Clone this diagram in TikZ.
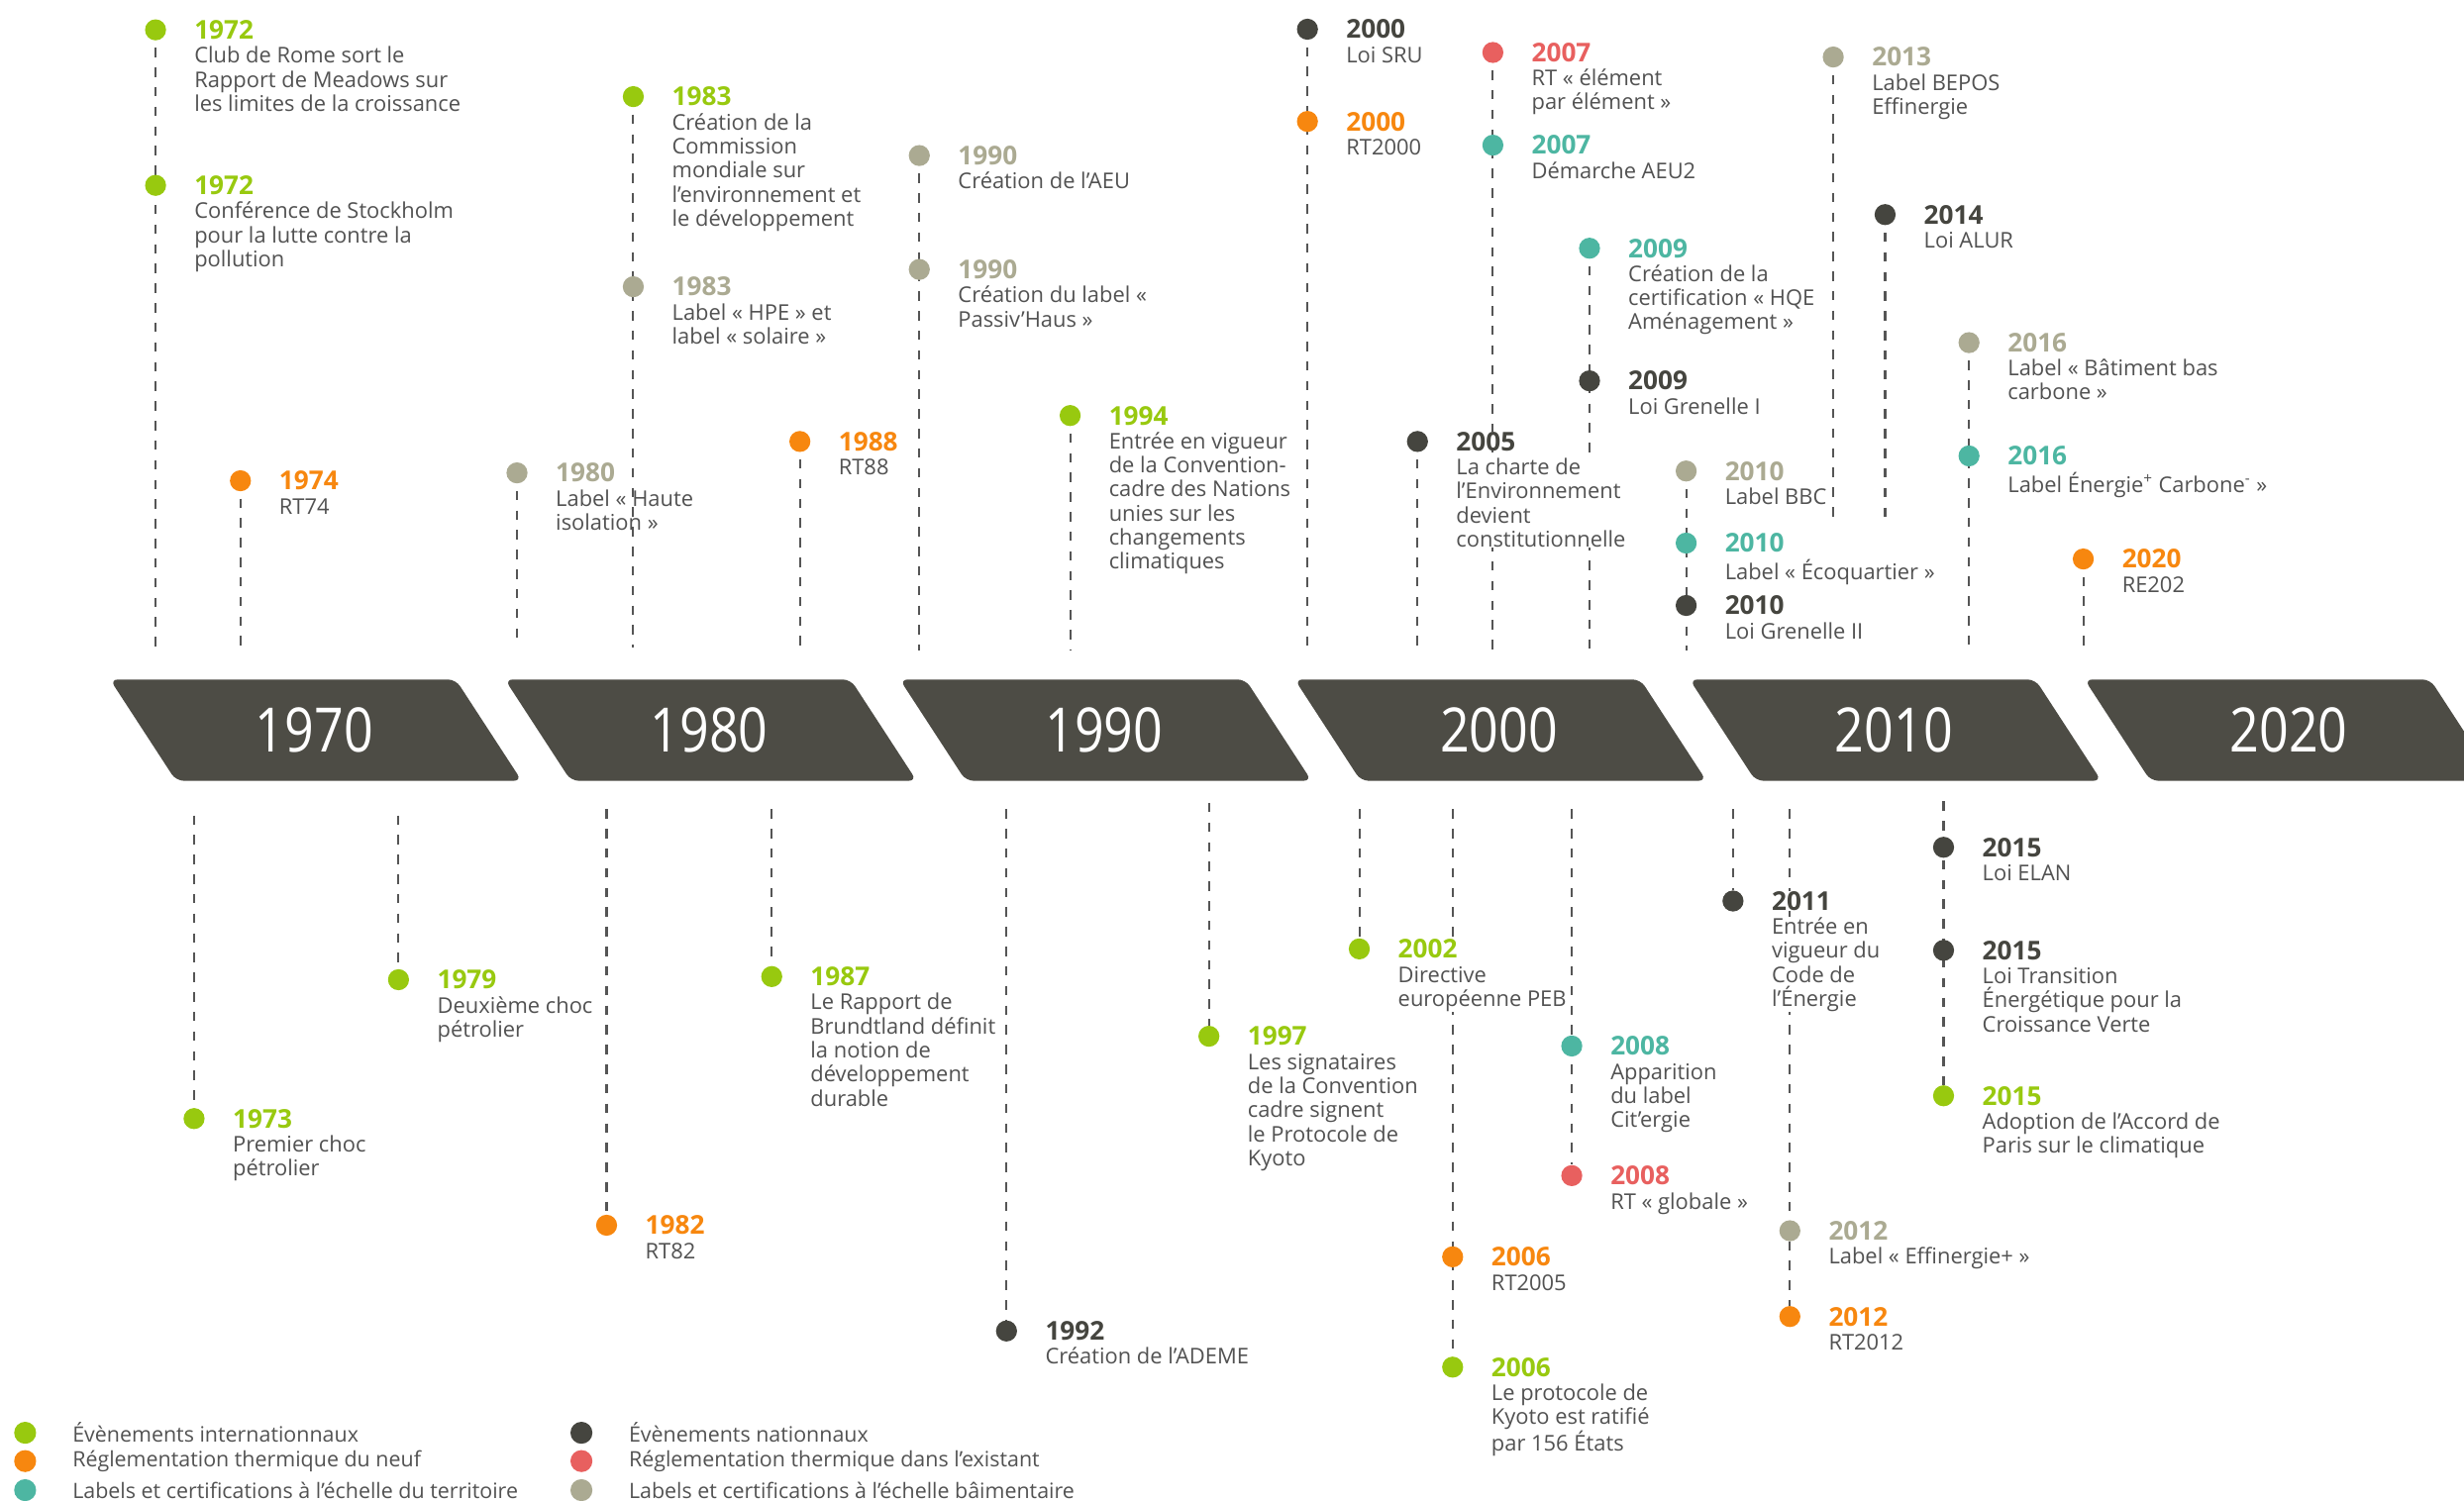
\documentclass[tikz,border=0pt]{standalone}
\usepackage{fontspec}
\setmainfont{Open Sans}
\usepackage{graphicx}
\usetikzlibrary{calc}
\definecolor{cgreen}{RGB}{152,201,15}
\definecolor{corange}{RGB}{247,135,15}
\definecolor{cteal}{RGB}{77,182,162}
\definecolor{cdark}{RGB}{69,69,63}
\definecolor{cred}{RGB}{232,96,95}
\definecolor{ckhaki}{RGB}{171,170,146}
\definecolor{banner}{RGB}{77,76,69}
\definecolor{tgrey}{RGB}{82,82,82}
\definecolor{lgrey}{RGB}{85,85,85}
\pgfdeclarelayer{bg}
\pgfsetlayers{bg,main}
\tikzset{
 evdot/.style={circle,inner sep=0pt,minimum size=13.4pt,draw=none},
 evyear/.style={anchor=west,inner sep=0pt,font=\fontsize{16.5}{16.5}\selectfont\bfseries,fill=white},
 evdesc/.style={anchor=north west,inner sep=0pt,align=left,font=\fontsize{13.8}{15.3}\selectfont,text=tgrey,fill=white},
 conn/.style={draw=lgrey,line width=1.3pt,dash pattern=on 6pt off 6.5pt},
 band/.style={fill=banner,rounded corners=5pt},
 bandtext/.style={text=white,font=\fontsize{39}{39}\selectfont,inner sep=0pt},
 legdot/.style={circle,inner sep=0pt,minimum size=14pt,draw=none},
 legtext/.style={anchor=west,inner sep=0pt,font=\fontsize{13.5}{15}\selectfont,text=tgrey},
}
\newcommand{\ev}[7][]{%
  \node[evdot,fill=#5] (#2) at (#3,#4) {};
  \node[evyear,text=#5,xshift=24.5pt] (#2-y) at (#3,#4) {#6};
  \node[evdesc,xshift=24.5pt,yshift=-10pt,#1] (#2-t) at (#3,#4) {\rule{0pt}{11pt}#7};
}
\begin{document}
\begin{tikzpicture}[x=1pt,y=-1pt]
\useasboundingbox (0,0) rectangle (1568,955.4);
\clip (0,0) rectangle (1568,955.4);
% banner
\foreach \k/\yr in {0/1970,1/1980,2/1990,3/2000,4/2010,5/2020}{
  \pgfmathsetmacro\xo{70+251.3*\k}
  \fill[band] (\xo+110,432.5) -- (\xo+220,432.5) -- (\xo+262,497) -- (\xo+42,497) -- (\xo,432.5) -- cycle;
  \node[bandtext] (yr\yr) at (\xo+130,465) {\scalebox{0.84}[1]{\yr}};
}
% top events
\ev{e1}{99}{19}{cgreen}{1972}{Club de Rome sort le\\Rapport de Meadows sur\\les limites de la croissance}
\ev{e2}{99}{118}{cgreen}{1972}{Conférence de Stockholm\\pour la lutte contre la\\pollution}
\ev{e3}{153}{306}{corange}{1974}{RT74}
\ev[fill=none]{e4}{329}{301}{ckhaki}{1980}{Label « Haute\\isolation »}
\ev{e5}{403}{61.5}{cgreen}{1983}{Création de la\\Commission\\mondiale sur\\l’environnement et\\le développement}
\ev{e6}{403}{182.5}{ckhaki}{1983}{Label « HPE » et\\label « solaire »}
\ev{e7}{509}{281}{corange}{1988}{RT88}
\ev{e8}{585}{99}{ckhaki}{1990}{Création de l’AEU}
\ev{e9}{585}{171.5}{ckhaki}{1990}{Création du label «\\Passiv’Haus »}
\ev{e10}{681}{264.5}{cgreen}{1994}{Entrée en vigueur\\de la Convention-\\cadre des Nations\\unies sur les\\changements\\climatiques}
\ev{e11}{832}{18.6}{cdark}{2000}{Loi SRU}
\ev{e12}{832}{77.3}{corange}{2000}{RT2000}
\ev{e13}{950}{33.4}{cred}{2007}{RT « élément\\par élément »}
\ev{e14}{950}{92.4}{cteal}{2007}{Démarche AEU2}
\ev{e15}{1011.5}{158}{cteal}{2009}{Création de la\\certification « HQE\\Aménagement »}
\ev{e16}{1011.5}{242.4}{cdark}{2009}{Loi Grenelle I}
\ev{e17}{902}{281}{cdark}{2005}{La charte de\\l’Environnement\\devient\\constitutionnelle}
\ev{e18}{1073}{299.8}{ckhaki}{2010}{Label BBC}
\ev{e19}{1073}{345.7}{cteal}{2010}{Label « Écoquartier »}
\ev{e20}{1073}{385.4}{cdark}{2010}{Loi Grenelle II}
\ev{e21}{1166.6}{36.3}{ckhaki}{2013}{Label BEPOS\\Effinergie}
\ev{e22}{1199.6}{136.6}{cdark}{2014}{Loi ALUR}
\ev{e23}{1253}{218.1}{ckhaki}{2016}{Label « Bâtiment bas\\carbone »}
\ev{e24}{1253}{290.2}{cteal}{2016}{Label Énergie\textsuperscript{+} Carbone\textsuperscript{-} »}
\ev{e25}{1325.7}{355.8}{corange}{2020}{RE202}
% bottom events
\ev{b1}{123.5}{712}{cgreen}{1973}{Premier choc\\pétrolier}
\ev{b2}{253.6}{623.6}{cgreen}{1979}{Deuxième choc\\pétrolier}
\ev{b3}{386}{779.9}{corange}{1982}{RT82}
\ev{b4}{491.1}{621.6}{cgreen}{1987}{Le Rapport de\\Brundtland définit\\la notion de\\développement\\durable}
\ev{b5}{640.5}{847.2}{cdark}{1992}{Création de l’ADEME}
\ev{b6}{769.3}{659.6}{cgreen}{1997}{Les signataires\\de la Convention\\cadre signent\\le Protocole de\\Kyoto}
\ev{b7}{865}{604}{cgreen}{2002}{Directive\\européenne PEB}
\ev{b8}{924.4}{800}{corange}{2006}{RT2005}
\ev{b9}{924.4}{870.2}{cgreen}{2006}{Le protocole de\\Kyoto est ratifié\\par 156 États}
\ev{b10}{1000.2}{665.8}{cteal}{2008}{Apparition\\du label\\Cit’ergie}
\ev{b11}{1000.2}{748.3}{cred}{2008}{RT « globale »}
\ev{b12}{1102.8}{573.5}{cdark}{2011}{Entrée en\\vigueur du\\Code de\\l’Énergie}
\ev{b13}{1139}{783.4}{ckhaki}{2012}{Label « Effinergie+ »}
\ev{b14}{1139}{838}{corange}{2012}{RT2012}
\ev{b15}{1236.8}{539.3}{cdark}{2015}{Loi ELAN}
\ev{b16}{1236.8}{604.9}{cdark}{2015}{Loi Transition\\Énergétique pour la\\Croissance Verte}
\ev{b17}{1236.8}{697.5}{cgreen}{2015}{Adoption de l’Accord de\\Paris sur le climatique}
% line ends
\coordinate (e1-end) at (99,412);
\coordinate (e3-end) at (153,412);
\coordinate (e4-end) at (329,412);
\coordinate (e5-end) at (403,412);
\coordinate (e7-end) at (509,414);
\coordinate (e8-end) at (585,414);
\coordinate (e10-end) at (681,414);
\coordinate (e11-end) at (832,414);
\coordinate (e13-end) at (950,414);
\coordinate (e15-end) at (1011.5,414);
\coordinate (e17-end) at (902,414);
\coordinate (e18-end) at (1073,414);
\coordinate (e21-end) at (1166.6,334);
\coordinate (e22-end) at (1199.6,334);
\coordinate (e23-end) at (1253,414);
\coordinate (e25-end) at (1325.7,414);
\coordinate (b1-top) at (123.5,519);
\coordinate (b2-top) at (253.6,519);
\coordinate (b3-top) at (386,515);
\coordinate (b4-top) at (491.1,515);
\coordinate (b5-top) at (640.5,515);
\coordinate (b6-top) at (769.3,511);
\coordinate (b7-top) at (865,515);
\coordinate (b8-top) at (924.4,515);
\coordinate (b10-top) at (1000.2,515);
\coordinate (b12-top) at (1102.8,515);
\coordinate (b13-top) at (1139,515);
\coordinate (b15-top) at (1236.8,510);
\begin{pgfonlayer}{bg}
\foreach \a in {e1,e3,e4,e5,e7,e8,e10,e11,e13,e15,e17,e18,e21,e22,e23,e25}{
  \draw[conn,dash phase=8pt] (\a) -- (\a-end);
}
\foreach \a/\b in {b1/b1,b2/b2,b3/b3,b4/b4,b5/b5,b6/b6,b7/b7,b8/b9,b10/b11,b12/b12,b13/b14,b15/b17}{
  \draw[conn] (\a-top) -- (\b);
}
\end{pgfonlayer}
% legend
\node[legdot,fill=cgreen] (l1) at (16,912) {};
\node[legtext] (l1-t) at (46,912) {Évènements internationnaux};
\node[legdot,fill=corange] (l2) at (16,930) {};
\node[legtext] (l2-t) at (46,930) {Réglementation thermique du neuf};
\node[legdot,fill=cteal] (l3) at (16,948.5) {};
\node[legtext] (l3-t) at (46,948.5) {Labels et certifications à l’échelle du territoire};
\node[legdot,fill=cdark] (l4) at (370,912) {};
\node[legtext] (l4-t) at (400,912) {Évènements nationnaux};
\node[legdot,fill=cred] (l5) at (370,930) {};
\node[legtext] (l5-t) at (400,930) {Réglementation thermique dans l’existant};
\node[legdot,fill=ckhaki] (l6) at (370,948.5) {};
\node[legtext] (l6-t) at (400,948.5) {Labels et certifications à l’échelle bâimentaire};
\end{tikzpicture}
\end{document}
